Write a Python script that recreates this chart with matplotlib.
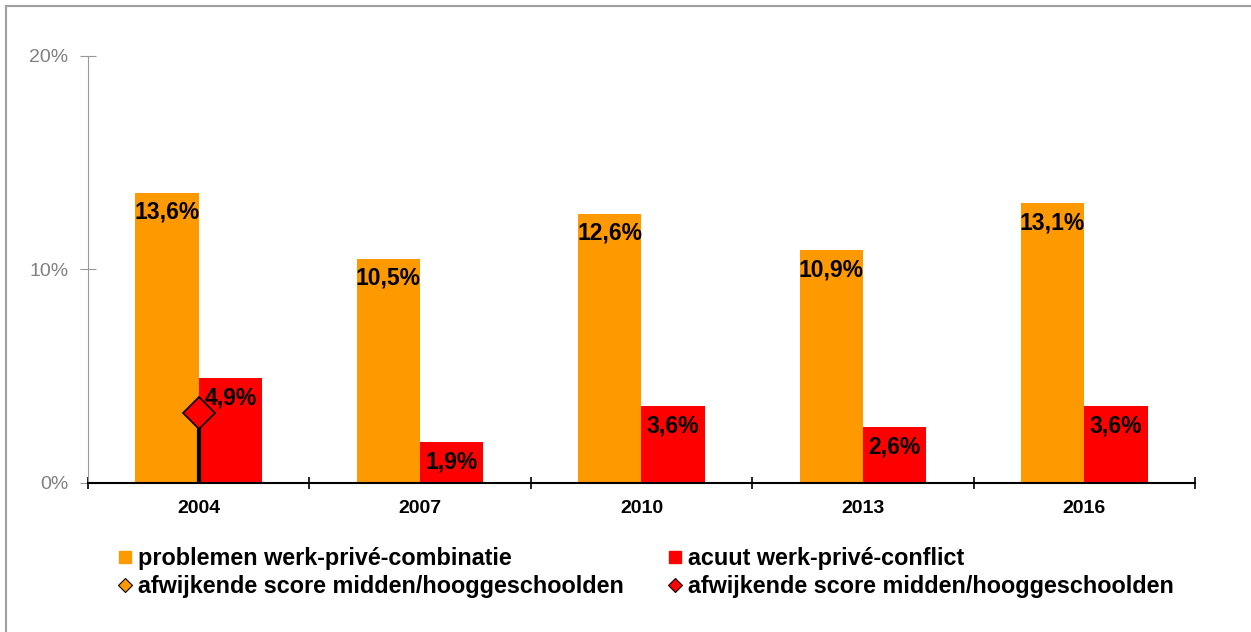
import matplotlib.pyplot as plt
from matplotlib.lines import Line2D
import numpy as np

plt.rcParams['font.family'] = ['Liberation Sans', 'DejaVu Sans']

# data
years = ['2004', '2007', '2010', '2013', '2016']
problemen = [13.6, 10.5, 12.6, 10.9, 13.1]
acuut = [4.9, 1.9, 3.6, 2.6, 3.6]
# deviating score for middle/highly educated (only 2004, acuut)
afwijkend_idx = [0]
afwijkend_val = [3.3]

y_ticks = [0, 10, 20]
y_ticklabels = ['0%', '10%', '20%']

labels = ['problemen werk-privé-combinatie', 'acuut werk-privé-conflict',
          'afwijkende score midden/hooggeschoolden',
          'afwijkende score midden/hooggeschoolden']

orange = '#FF9900'
red = '#FF0000'

fig = plt.figure(figsize=(12.51, 6.32), dpi=100)
ax = fig.add_axes([0.0703, 0.2358, 0.8849, 0.6756])

x = np.arange(len(years))
w = 0.286
b1 = ax.bar(x - w / 2, problemen, w, color=orange, zorder=2)
b2 = ax.bar(x + w / 2, acuut, w, color=red, zorder=2)

# value labels inside the top of each bar
for bars, vals in [(b1, problemen), (b2, acuut)]:
    for rect, v in zip(bars, vals):
        ax.annotate(f'{v:.1f}%'.replace('.', ','),
                    (rect.get_x() + rect.get_width() / 2, v),
                    xytext=(0, -14), textcoords='offset points',
                    ha='center', va='center', fontsize=16.5,
                    fontweight='bold', zorder=4)

# deviating score: stem + diamond
for i, v in zip(afwijkend_idx, afwijkend_val):
    ax.vlines(x[i], 0, v, color='black', lw=3, zorder=3)
    ax.plot(x[i], v, marker='D', ms=16, mfc=red, mec='black', mew=1.2,
            zorder=5)

ax.set_xlim(-0.5, len(years) - 0.5)
ax.set_ylim(0, 20)
ax.set_yticks(y_ticks)
ax.set_yticklabels(y_ticklabels)
ax.tick_params(axis='y', direction='inout', length=12, color='#999999',
               labelcolor='#808080', labelsize=14, pad=8)

ax.set_xticks(np.arange(-0.5, len(years)))
ax.set_xticklabels([])
ax.set_xticks(x, minor=True)
ax.set_xticklabels(years, minor=True)
ax.tick_params(axis='x', which='major', direction='inout', length=9,
               color='black', width=1.2)
ax.tick_params(axis='x', which='minor', length=0, labelsize=14, pad=12)
for t in ax.get_xticklabels(minor=True):
    t.set_fontweight('bold')

for s in ['top', 'right']:
    ax.spines[s].set_visible(False)
ax.spines['left'].set_color('#999999')
ax.spines['bottom'].set_color('black')
ax.spines['bottom'].set_linewidth(1.5)
ax.spines['bottom'].set_zorder(3)

# legend in two columns
h_or = Line2D([], [], ls='none', marker='s', ms=8, mfc=orange, mec=orange)
h_rd = Line2D([], [], ls='none', marker='s', ms=8, mfc=red, mec=red)
h_od = Line2D([], [], ls='none', marker='D', ms=7, mfc=orange, mec='black',
              mew=0.8)
h_rdd = Line2D([], [], ls='none', marker='D', ms=7, mfc=red, mec='black',
               mew=0.8)
leg_kw = dict(loc='upper left', frameon=False, borderpad=0,
              handlelength=0.75, handletextpad=0.15, labelspacing=0.25,
              prop={'size': 16.8, 'weight': 'bold'})
fig.legend([h_or, h_od], [labels[0], labels[2]],
           bbox_to_anchor=(105 / 1251, 1 - 535 / 632), **leg_kw)
fig.legend([h_rd, h_rdd], [labels[1], labels[3]],
           bbox_to_anchor=(655 / 1251, 1 - 535 / 632), **leg_kw)

# outer frame (left and top)
fig.add_artist(Line2D([5.5 / 1251, 5.5 / 1251], [0, 1 - 5.5 / 632],
                      color='#a0a0a0', lw=1.5))
fig.add_artist(Line2D([5.5 / 1251, 1], [1 - 5.5 / 632, 1 - 5.5 / 632],
                      color='#a0a0a0', lw=1.5))

fig.savefig('out.png', dpi=100)
